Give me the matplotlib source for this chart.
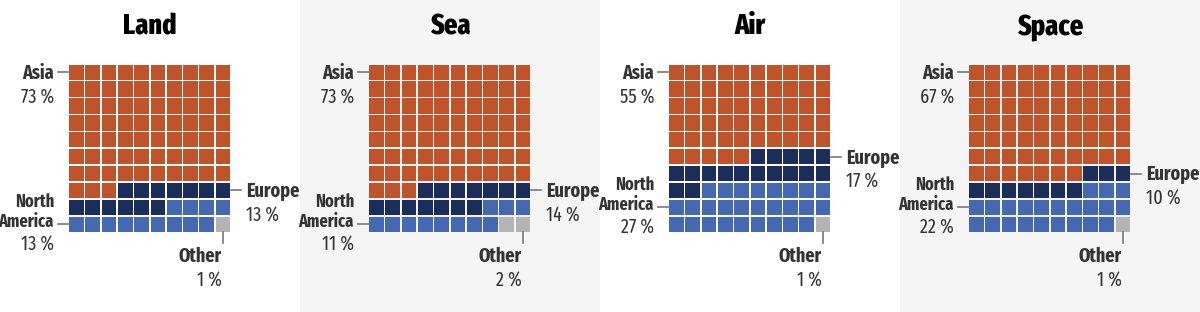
import numpy as np
import matplotlib.pyplot as plt
from matplotlib.patches import Rectangle
from matplotlib import font_manager

# share of each region, in percent (one waffle per domain)
modes = ["Land", "Sea", "Air", "Space"]
asia = [73, 73, 55, 67]
europe = [13, 14, 17, 10]
north_america = [13, 11, 27, 22]
other = [1, 2, 1, 1]

colors = ["#c0532a", "#1b2d5a", "#4468b1", "#b4b4b4"]
panel_bg = ["white", "#f5f5f5", "white", "#f5f5f5"]

names = {f.name for f in font_manager.fontManager.ttflist}
FONT = "DejaVu Sans"
for cand in ["Fira Sans Extra Condensed", "PT Sans Narrow", "Roboto Condensed"]:
    if cand in names:
        FONT = cand
        break
plt.rcParams["font.family"] = [FONT, "DejaVu Sans"]

TXT = "#333333"
LEAD = "#777777"
FS = 14.2

# grid geometry in pixel units of each 300 px wide panel
GX0, GY0 = 69.0, 64.5
PX, PY = 16.3, 16.9
GAP = 1.6


def cell_xy(k):
    row, col = divmod(k, 10)
    return GX0 + col * PX, GY0 + row * PY


def row_mid(r):
    return GY0 + r * PY + (PY - GAP) / 2


def draw_panel(ax, title, counts):
    cats = np.repeat(np.arange(4), counts)
    for k, c in enumerate(cats):
        x, y = cell_xy(k)
        ax.add_patch(Rectangle((x, y), PX - GAP, PY - GAP,
                               facecolor=colors[c], edgecolor="none"))

    ax.text(150, 34.5, title, ha="center", va="baseline", fontsize=20.5,
            fontweight="heavy", color="black")

    left = GX0 - 1
    right = GX0 + 10 * PX - GAP + 1

    # Asia: first row, left side
    ya = row_mid(0)
    ax.plot([left - 10, left], [ya, ya], color=LEAD, lw=1.2)
    ax.text(54, ya + 6.5, "Asia", ha="right", va="baseline", fontsize=FS,
            fontweight="bold", color=TXT)
    ax.text(54, ya + 31, f"{counts[0]} %", ha="right", va="baseline",
            fontsize=FS, color=TXT)

    # Europe: first row where the right column turns Europe
    er = min(k // 10 for k, c in enumerate(cats) if c == 1 and k % 10 == 9)
    ye = row_mid(er)
    ax.plot([right, right + 10], [ye, ye], color=LEAD, lw=1.2)
    ax.text(246, ye + 6.8, "Europe", ha="left", va="baseline", fontsize=FS,
            fontweight="bold", color=TXT)
    ax.text(246, ye + 31, f"{counts[1]} %", ha="left", va="baseline",
            fontsize=FS, color=TXT)

    # North America: first row where the left column turns North America
    nr = min(k // 10 for k, c in enumerate(cats) if c == 2 and k % 10 == 0)
    yn = row_mid(nr)
    ax.plot([left - 10, left], [yn, yn], color=LEAD, lw=1.2)
    ax.text(54, yn - 17, "North", ha="right", va="baseline", fontsize=12.8,
            fontweight="bold", color=TXT)
    ax.text(54, yn + 2.5, "America", ha="right", va="baseline", fontsize=12.8,
            fontweight="bold", color=TXT)
    ax.text(54, yn + 26.5, f"{counts[2]} %", ha="right", va="baseline",
            fontsize=FS, color=TXT)

    # Other: last cell, leader going down
    xo = GX0 + 9 * PX + (PX - GAP) / 2
    yb = GY0 + 10 * PY - GAP
    ax.plot([xo, xo], [yb, yb + 11], color=LEAD, lw=1.2)
    ax.text(xo - 1, 261.5, "Other", ha="right", va="baseline", fontsize=FS,
            fontweight="bold", color=TXT)
    ax.text(xo - 1, 287, f"{counts[3]} %", ha="right", va="baseline",
            fontsize=FS, color=TXT)


fig = plt.figure(figsize=(12, 3.12), dpi=100)
for i, title in enumerate(modes):
    ax = fig.add_axes([i / 4, 0, 1 / 4, 1])
    ax.set_xlim(0, 300)
    ax.set_ylim(312, 0)
    ax.set_facecolor(panel_bg[i])
    ax.set_xticks([])
    ax.set_yticks([])
    for s in ax.spines.values():
        s.set_visible(False)
    draw_panel(ax, title, [asia[i], europe[i], north_america[i], other[i]])

fig.savefig("out.png", dpi=100, facecolor="white")
